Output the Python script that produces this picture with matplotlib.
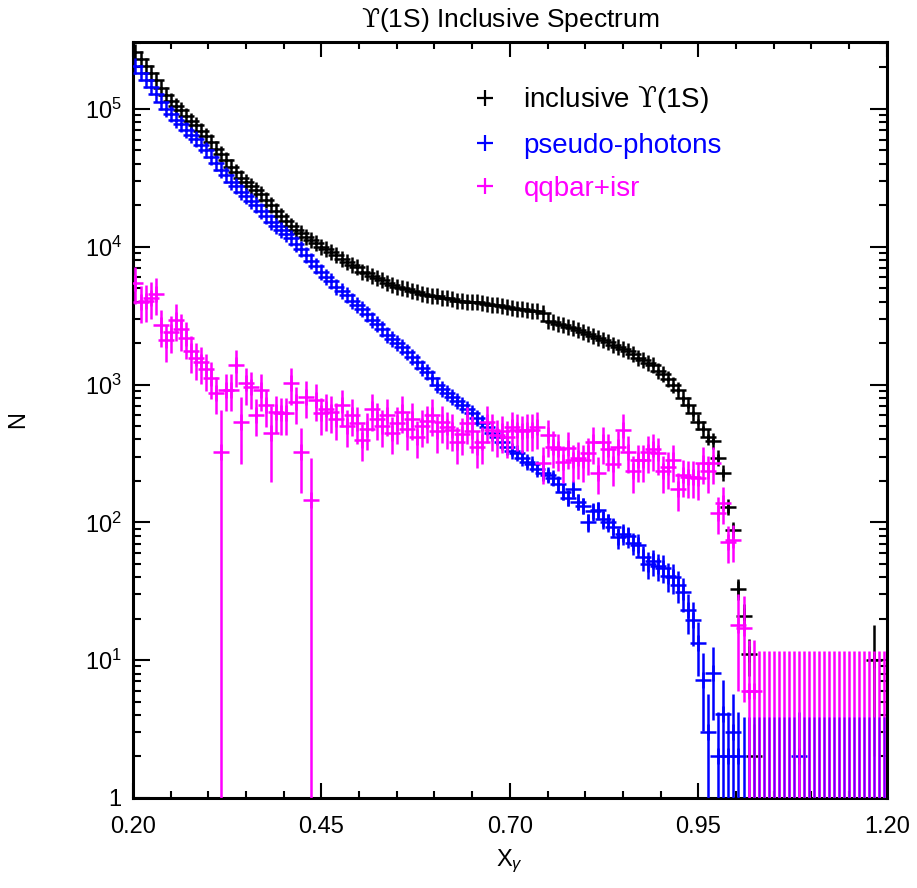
import numpy as np
import matplotlib
matplotlib.use('Agg')
import matplotlib.pyplot as plt
from matplotlib.lines import Line2D
from matplotlib.ticker import FixedLocator, FixedFormatter, MultipleLocator, LogLocator, NullFormatter

plt.rcParams['font.family'] = ['Liberation Sans', 'DejaVu Sans']
plt.rcParams['mathtext.fontset'] = 'custom'
plt.rcParams['mathtext.rm'] = 'DejaVu Serif'
plt.rcParams['mathtext.it'] = 'Liberation Sans:italic'
plt.rcParams['mathtext.sf'] = 'Liberation Sans'

# ——— DATA ———
n_bins = 150
bin_w = 1.0 / n_bins
x_gamma = 0.2 + bin_w * (np.arange(n_bins) + 0.5)

inclusive = [257000, 229000, 204000, 182000, 162000, 141000, 126000, 115000, 105000, 97700,
             89100, 81300, 75900, 69200, 63100, 57500, 51300, 46800, 42700, 38000,
             34700, 31600, 29500, 27500, 25700, 24000, 21900, 20000, 18200, 16600,
             15500, 14100, 13200, 12600, 11700, 11200, 10700, 10000, 9550, 9120,
             8710, 8130, 7760, 7410, 7080, 6610, 6460, 6170, 5890, 5750,
             5500, 5250, 5130, 5010, 4900, 4790, 4680, 4570, 4470, 4420,
             4370, 4270, 4220, 4170, 4070, 4030, 3980, 3980, 3940, 3890,
             3850, 3800, 3760, 3720, 3630, 3590, 3550, 3510, 3470, 3430,
             3390, 3310, 2880, 2820, 2750, 2690, 2630, 2570, 2480, 2400,
             2340, 2260, 2190, 2090, 2020, 1950, 1880, 1820, 1740, 1660,
             1570, 1500, 1430, 1380, 1260, 1190, 1100, 1000, 912, 794,
             708, 617, 537, 479, 417, 389, 295, 229, 129, 88,
             33, 21, 11, 2, 0, 0, 0, 0, 0, 0,
             0, 0, 0, 0, 0, 0, 0, 0, 0, 0,
             0, 0, 0, 0, 0, 0, 0, 10, 0, 0]

pseudo = [204000, 182000, 162000, 145000, 129000, 112000, 100000, 91200, 83200, 77600,
          70800, 64600, 60300, 55000, 50100, 44700, 40700, 36300, 33100, 29500,
          27500, 25100, 23400, 21400, 20000, 18200, 16600, 15100, 14100, 13200,
          12300, 11500, 10500, 9550, 8710, 7940, 7240, 6610, 6030, 5620,
          5130, 4790, 4470, 4070, 3800, 3510, 3240, 2950, 2750, 2510,
          2290, 2140, 2000, 1860, 1720, 1580, 1450, 1320, 1230, 1120,
          1000, 933, 871, 813, 759, 708, 661, 617, 575, 525,
          490, 447, 417, 380, 355, 331, 316, 295, 275, 263,
          245, 229, 219, 209, 191, 166, 151, 174, 141, 132,
          100, 120, 123, 105, 100, 93, 78, 83, 79, 71,
          69, 56, 50, 52, 48, 47, 41, 40, 35, 31,
          23, 19.5, 13.3, 7.2, 3.0, 8.1, 2.0, 4.1, 2.0, 3.0,
          2.0, 0, 0, 0, 0, 0, 0, 0, 0, 0,
          0, 0, 2, 0, 0, 0, 0, 0, 0, 0,
          0, 0, 0, 0, 0, 0, 0, 0, 0, 0]

qqbar = [5500, 3980, 4070, 4270, 4570, 2690, 2090, 2400, 2950, 2510,
         2190, 1740, 1550, 1450, 1290, 1120, 871, 324, 912, 912,
         1380, 537, 1020, 955, 603, 912, 708, 447, 631, 617,
         617, 1020, 741, 324, 813, 145, 776, 617, 661, 631,
         562, 708, 501, 603, 525, 398, 479, 661, 562, 501,
         603, 447, 525, 631, 479, 562, 417, 501, 540, 603,
         457, 537, 490, 468, 380, 437, 525, 457, 355, 380,
         537, 468, 427, 457, 417, 490, 468, 457, 468, 468,
         490, 269, 427, 355, 339, 275, 347, 282, 295, 282,
         316, 380, 229, 380, 339, 263, 355, 468, 324, 234,
         282, 282, 324, 339, 316, 234, 251, 282, 174, 219,
         214, 214, 209, 269, 234, 269, 117, 138, 72, 74,
         18, 17, 6, 6, 0, 0, 0, 0, 0, 0,
         0, 0, 0, 0, 0, 0, 0, 0, 0, 0,
         0, 0, 0, 0, 0, 0, 0, 0, 0, 0]

# errors: poisson for the inclusive sample, weighted for the MC ones
inc = np.array(inclusive, float)
pse = np.array(pseudo, float)
qq = np.array(qqbar, float)

inc_err = np.where(inc > 0, np.sqrt(inc), 1.0)
inc_err[147] = 8.0
pse_err = np.where(pse > 0, np.sqrt(pse * 2.4), 3.9)
qq_err = np.where(qq > 0, 0.3 * qq, 11.6)
qq_big = {17: 330, 21: 270, 27: 250, 33: 160, 35: 150, 120: 12, 121: 12, 122: 8, 123: 8}
for k, v in qq_big.items():
    qq_err[k] = v

x_ticks = [0.20, 0.45, 0.70, 0.95, 1.20]
x_tick_labels = ['0.20', '0.45', '0.70', '0.95', '1.20']
y_ticks = [1, 10, 100, 1000, 1e4, 1e5]
y_tick_labels = ['1', r'10$^{\mathsf{1}}$', r'10$^{\mathsf{2}}$', r'10$^{\mathsf{3}}$',
                 r'10$^{\mathsf{4}}$', r'10$^{\mathsf{5}}$']

series = [
    (inc, inc_err, 'black', r'inclusive $\mathrm{ϒ}$(1S)'),
    (pse, pse_err, '#0000ff', 'pseudo-photons'),
    (qq, qq_err, '#ff00ff', 'qqbar+isr'),
]

# ——— PLOT ———
fig = plt.figure(figsize=(9.17, 8.88), dpi=100)
ax = fig.add_axes([0.145, 0.1014, 0.822, 0.8513])

handles = []
for z, (vals, err, col, lab) in enumerate(series):
    ax.errorbar(x_gamma, vals, yerr=err, fmt='+', color=col, ecolor=col,
                markersize=11, markeredgewidth=1.8, elinewidth=1.8, capsize=0,
                zorder=2 + z)
    handles.append(Line2D([], [], marker='+', linestyle='none', color=col,
                          markersize=12, markeredgewidth=1.6))

# empty pseudo-photon bins show through the qqbar bars
empty = (pse == 0) & (x_gamma > 1.02)
ax.errorbar(x_gamma[empty], pse[empty], yerr=pse_err[empty], fmt='none',
            ecolor='#0000ff', elinewidth=0.8, alpha=0.6, capsize=0, zorder=5)

ax.set_yscale('log')
ax.set_xlim(0.2, 1.2)
ax.set_ylim(1, 3.06e5)

ax.xaxis.set_major_locator(FixedLocator(x_ticks))
ax.xaxis.set_major_formatter(FixedFormatter(x_tick_labels))
ax.xaxis.set_minor_locator(MultipleLocator(0.05))
ax.yaxis.set_major_locator(FixedLocator(y_ticks))
ax.yaxis.set_major_formatter(FixedFormatter(y_tick_labels))
ax.yaxis.set_minor_locator(LogLocator(base=10, subs=np.arange(2, 10), numticks=20))
ax.yaxis.set_minor_formatter(NullFormatter())

ax.tick_params(which='both', direction='in', top=True, right=True, width=1.5, colors='black')
ax.tick_params(axis='x', which='major', length=11, pad=13, labelsize=17)
ax.tick_params(axis='x', which='minor', length=5)
ax.tick_params(axis='y', which='major', length=12, pad=8, labelsize=17)
ax.tick_params(axis='y', which='minor', length=6)
for sp in ax.spines.values():
    sp.set_linewidth(2.2)

ax.set_title(r'$\mathrm{ϒ}$(1S) Inclusive Spectrum', fontsize=19, pad=11)
ax.set_xlabel(r'X$_\gamma$', fontsize=17)
ax.set_ylabel('N', fontsize=17)
ax.xaxis.set_label_coords(0.5, -0.066)
ax.yaxis.set_label_coords(-0.138, 0.5)

leg = ax.legend(handles, [s[3] for s in series], loc='upper left',
                bbox_to_anchor=(0.448, 0.944), frameon=False, fontsize=20,
                handlelength=1.0, handletextpad=0.9, labelspacing=0.62,
                borderpad=0, borderaxespad=0)
for txt, s in zip(leg.get_texts(), series):
    txt.set_color(s[2])

fig.savefig('out.png', dpi=100)
